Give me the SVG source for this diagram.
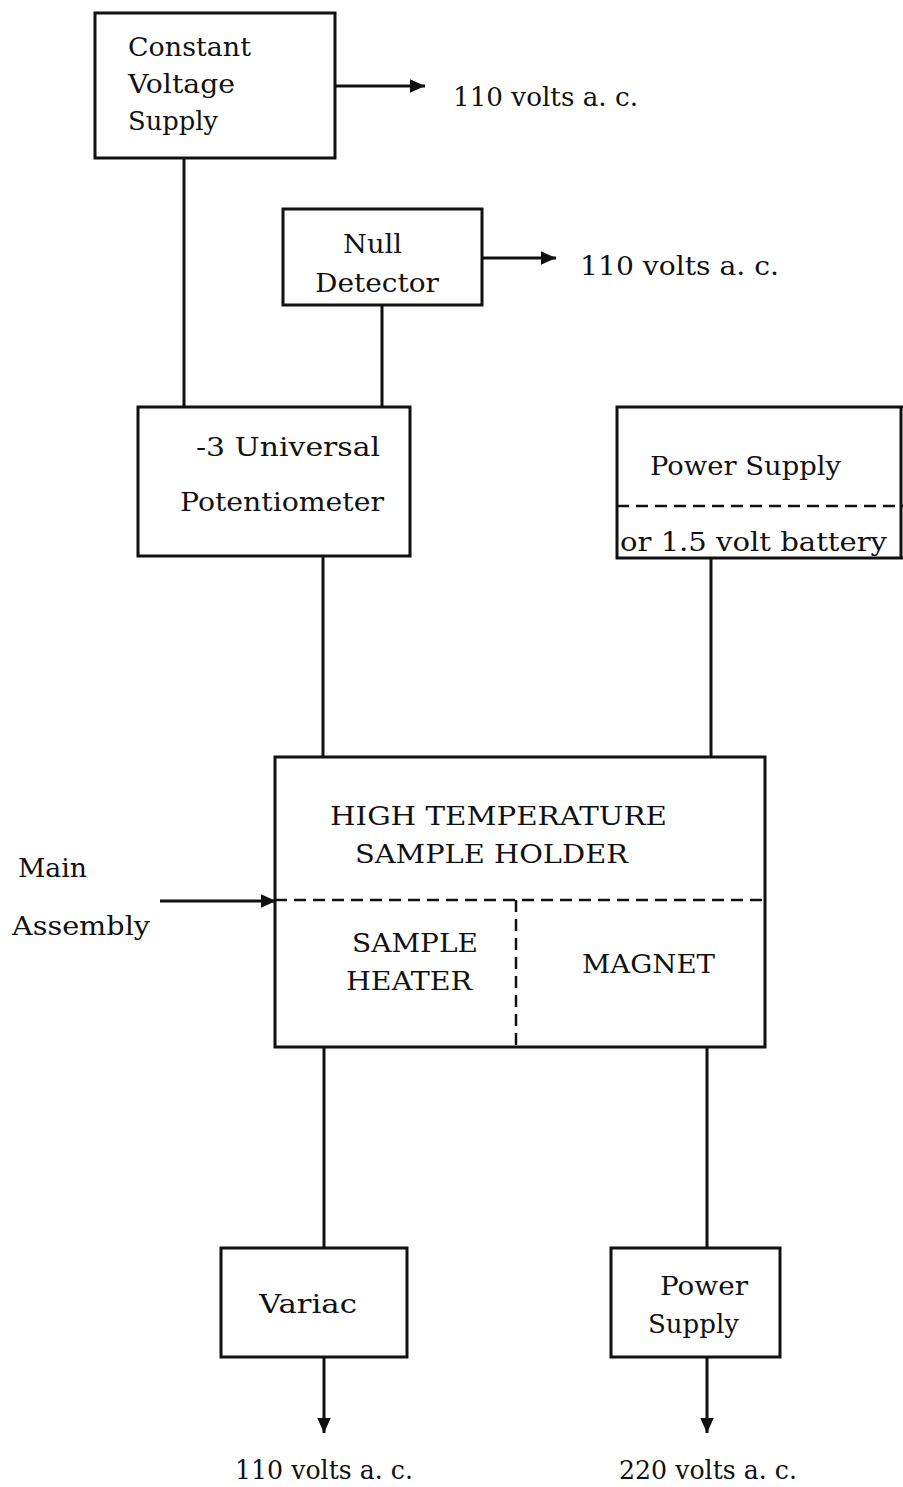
<svg xmlns="http://www.w3.org/2000/svg" width="903" height="1487" viewBox="0 0 903 1487">
<style>
.box{fill:none;stroke:#111;stroke-width:3}
.ln{fill:none;stroke:#111;stroke-width:3}
.dash{fill:none;stroke:#111;stroke-width:2.5;stroke-dasharray:12 7}
text{font-family:"DejaVu Serif","Liberation Serif",serif;font-size:26px;fill:#111}
</style>
<defs>
<marker id="ah" viewBox="0 0 10 10" refX="10" refY="5" markerWidth="5" markerHeight="5" orient="auto" markerUnits="strokeWidth">
<path d="M0,0.5 L10,5 L0,9.5 Z" fill="#111"/>
</marker>
</defs>
<rect width="903" height="1487" fill="#fff"/>
<g id="connectors">
<line class="ln" x1="335" y1="86" x2="425" y2="86" marker-end="url(#ah)"/>
<line class="ln" x1="482" y1="258" x2="556" y2="258" marker-end="url(#ah)"/>
<line class="ln" x1="184" y1="158" x2="184" y2="407"/>
<line class="ln" x1="382" y1="305" x2="382" y2="407"/>
<line class="ln" x1="323" y1="556" x2="323" y2="757"/>
<line class="ln" x1="711" y1="558" x2="711" y2="757"/>
<line class="ln" x1="160" y1="901" x2="276" y2="901" marker-end="url(#ah)"/>
<line class="ln" x1="324" y1="1047" x2="324" y2="1248"/>
<line class="ln" x1="707" y1="1047" x2="707" y2="1248"/>
<line class="ln" x1="324" y1="1357" x2="324" y2="1433" marker-end="url(#ah)"/>
<line class="ln" x1="707" y1="1357" x2="707" y2="1433" marker-end="url(#ah)"/>
</g>
<g id="constant-voltage-supply">
<rect class="box" x="95" y="13" width="240" height="145"/>
<text x="128" y="56" textLength="123" lengthAdjust="spacingAndGlyphs">Constant</text>
<text x="128" y="93" textLength="107" lengthAdjust="spacingAndGlyphs">Voltage</text>
<text x="128" y="130" textLength="90" lengthAdjust="spacingAndGlyphs">Supply</text>
</g>
<text x="453" y="106" textLength="185" lengthAdjust="spacingAndGlyphs">110 volts a. c.</text>
<g id="null-detector">
<rect class="box" x="283" y="209" width="199" height="96"/>
<text x="343" y="253" textLength="59" lengthAdjust="spacingAndGlyphs">Null</text>
<text x="315" y="292" textLength="124" lengthAdjust="spacingAndGlyphs">Detector</text>
</g>
<text x="580" y="275" textLength="199" lengthAdjust="spacingAndGlyphs">110 volts a. c.</text>
<g id="potentiometer">
<rect class="box" x="138" y="407" width="272" height="149"/>
<text x="196" y="456" textLength="184" lengthAdjust="spacingAndGlyphs">-3 Universal</text>
<text x="180" y="511" textLength="204" lengthAdjust="spacingAndGlyphs">Potentiometer</text>
</g>
<g id="power-supply-battery">
<path class="box" d="M903,407 H617 V558 H903"/>
<line class="box" x1="901" y1="407" x2="901" y2="558"/>
<line class="dash" x1="617" y1="506" x2="903" y2="506"/>
<text x="650" y="475" textLength="191" lengthAdjust="spacingAndGlyphs">Power Supply</text>
<text x="620" y="551" textLength="267" lengthAdjust="spacingAndGlyphs">or 1.5 volt battery</text>
</g>
<g id="sample-holder">
<rect class="box" x="275" y="757" width="490" height="290"/>
<line class="dash" x1="275" y1="900" x2="765" y2="900"/>
<line class="dash" x1="516" y1="900" x2="516" y2="1047"/>
<text x="330" y="825" textLength="337" lengthAdjust="spacingAndGlyphs">HIGH TEMPERATURE</text>
<text x="355" y="863" textLength="273" lengthAdjust="spacingAndGlyphs">SAMPLE HOLDER</text>
<text x="352" y="952" textLength="126" lengthAdjust="spacingAndGlyphs">SAMPLE</text>
<text x="346" y="990" textLength="126" lengthAdjust="spacingAndGlyphs">HEATER</text>
<text x="582" y="973" textLength="133" lengthAdjust="spacingAndGlyphs">MAGNET</text>
</g>
<text x="18" y="877" textLength="69" lengthAdjust="spacingAndGlyphs">Main</text>
<text x="12" y="935" textLength="138" lengthAdjust="spacingAndGlyphs">Assembly</text>
<g id="variac">
<rect class="box" x="221" y="1248" width="186" height="109"/>
<text x="259" y="1313" textLength="98" lengthAdjust="spacingAndGlyphs">Variac</text>
</g>
<g id="power-supply">
<rect class="box" x="611" y="1248" width="169" height="109"/>
<text x="660" y="1295" textLength="88" lengthAdjust="spacingAndGlyphs">Power</text>
<text x="648" y="1333" textLength="91" lengthAdjust="spacingAndGlyphs">Supply</text>
</g>
<text x="235" y="1479" textLength="178" lengthAdjust="spacingAndGlyphs">110 volts a. c.</text>
<text x="619" y="1479" textLength="178" lengthAdjust="spacingAndGlyphs">220 volts a. c.</text>
</svg>
